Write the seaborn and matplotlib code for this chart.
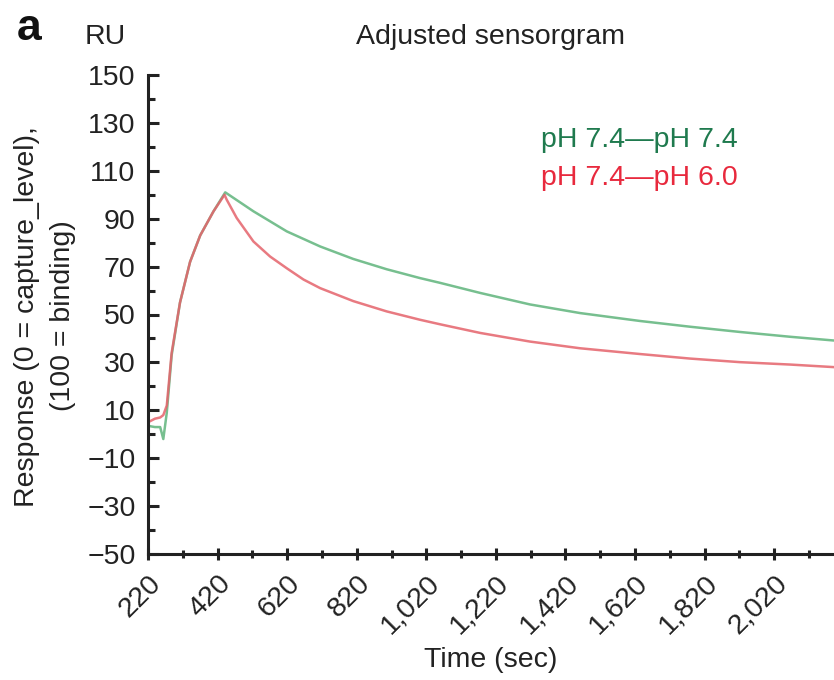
import matplotlib
matplotlib.use("Agg")
import matplotlib.pyplot as plt
import matplotlib.ticker as mticker
import seaborn as sns
import pandas as pd

# values
green_time = [220, 240, 255, 264, 274, 288, 312, 341, 370, 408, 442, 523, 619,
              715, 810, 906, 1002, 1060, 1175, 1318, 1462, 1634, 1778, 1922, 2066, 2195]
green_resp = [3.5, 3, 3, -2, 9, 33, 55, 72, 83, 93, 101, 93.1, 84.7,
              78.4, 73.2, 68.9, 65.2, 63.2, 59.0, 54.2, 50.6, 47.3, 44.9, 42.7, 40.7, 39.1]

red_time = [220, 240, 255, 264, 274, 288, 312, 341, 370, 408, 440, 446, 475, 523, 571,
            619, 667, 715, 810, 906, 1002, 1060, 1175, 1318, 1462, 1634, 1778, 1922,
            2066, 2195]
red_resp = [5, 6.5, 7, 8, 12, 34, 55, 72, 83, 93, 100, 98, 90.3, 80.5, 74.2,
            69.3, 64.6, 61.0, 55.6, 51.3, 47.8, 45.9, 42.3, 38.7, 35.9, 33.5, 31.6, 30.1,
            29.1, 28]

labels = ["pH 7.4\u2014pH 7.4", "pH 7.4\u2014pH 6.0"]
x_ticks = [220, 420, 620, 820, 1020, 1220, 1420, 1620, 1820, 2020]
y_ticks = [150, 130, 110, 90, 70, 50, 30, 10, -10, -30, -50]

sns.set_style("ticks")
plt.rcParams['font.family'] = ['Liberation Sans', 'DejaVu Sans']
plt.rcParams['axes.unicode_minus'] = True

fs = 20.5
fig = plt.figure(figsize=(8.34, 6.8), dpi=100)
ax = fig.add_axes([148 / 834, 126 / 680, 686 / 834, 479 / 680])

green_df = pd.DataFrame({"time": green_time, "resp": green_resp})
red_df = pd.DataFrame({"time": red_time, "resp": red_resp})
sns.lineplot(data=green_df, x="time", y="resp", ax=ax, color="#5fb47c", lw=1.8, alpha=0.85)
sns.lineplot(data=red_df, x="time", y="resp", ax=ax, color="#e5636b", lw=1.8, alpha=0.85)

ax.set_xlim(220, 2192)
ax.set_ylim(-50, 150)
sns.despine(ax=ax)
for s in ["left", "bottom"]:
    ax.spines[s].set_linewidth(2.2)
    ax.spines[s].set_color("#222222")

ax.set_yticks(y_ticks)
ax.yaxis.set_minor_locator(mticker.FixedLocator([v - 10 for v in y_ticks[:-1]]))
ax.set_xticks(x_ticks)
ax.set_xticklabels([f"{v:,}" for v in x_ticks])
ax.xaxis.set_minor_locator(mticker.FixedLocator([v + 100 for v in x_ticks]))

ax.tick_params(axis="y", which="major", direction="in", length=8, width=2.2, pad=9,
               labelsize=fs, colors="#222222")
ax.tick_params(axis="y", which="minor", direction="in", length=5, width=2.2, colors="#222222")
ax.tick_params(axis="x", which="major", direction="inout", length=9, width=2.2, pad=7,
               labelsize=fs, colors="#222222")
ax.tick_params(axis="x", which="minor", direction="inout", length=6, width=2.2, colors="#222222")
for lab in ax.get_xticklabels():
    lab.set_rotation(45)
    lab.set_ha("right")
    lab.set_rotation_mode("anchor")

ax.set_xlabel("Time (sec)", fontsize=fs, color="#222222", labelpad=6)
ax.set_ylabel("")

ax.text(0.573, 0.864, labels[0], transform=ax.transAxes, fontsize=fs,
        color="#1f7a4e", va="center", ha="left")
ax.text(0.573, 0.785, labels[1], transform=ax.transAxes, fontsize=fs,
        color="#e8293d", va="center", ha="left")

fig.text(27 / 834, 1 - 317 / 680, "Response (0 = capture_level),", rotation=90,
         fontsize=fs, color="#222222", ha="center", va="center")
fig.text(63 / 834, 1 - 316 / 680, "(100 = binding)", rotation=90,
         fontsize=fs, color="#222222", ha="center", va="center")
fig.text(105 / 834, 1 - 37 / 680, "RU", fontsize=fs, color="#222222", ha="center", va="center")
fig.text(491 / 834, 1 - 37 / 680, "Adjusted sensorgram", fontsize=fs, color="#222222",
         ha="center", va="center")
fig.text(29 / 834, 1 - 28 / 680, "a", fontsize=32, fontweight="bold", color="#111111",
         ha="center", va="center")

fig.savefig("out.png", dpi=100)
